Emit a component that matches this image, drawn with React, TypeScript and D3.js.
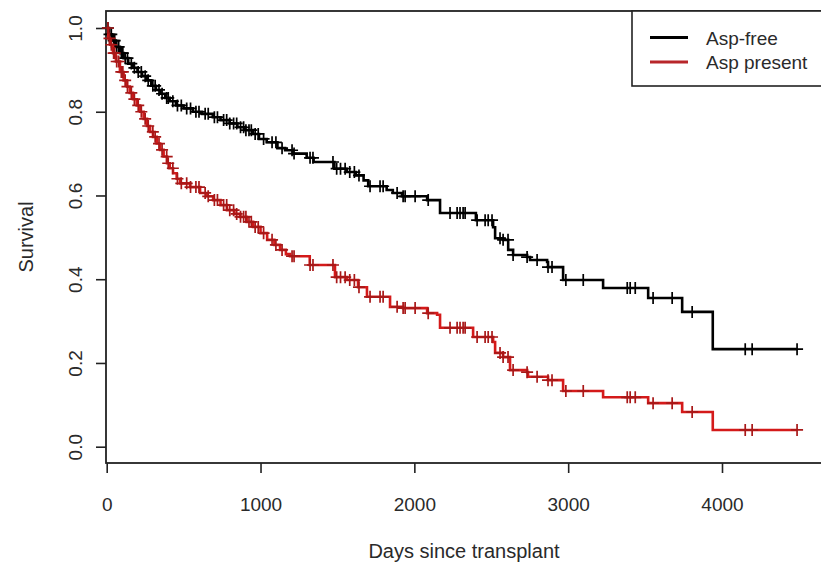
import React, { useEffect, useRef } from "react";
import * as d3 from "d3";

// axis ticks
const xTicks = [0, 1000, 2000, 3000, 4000];
const yTicks = [0, 0.2, 0.4, 0.6, 0.8, 1.0];

// Kaplan-Meier steps (day of drop, survival after it)
const freeDays = [0, 15, 35, 60, 86, 110, 140, 170, 200, 230, 260, 290, 320, 350, 380, 410, 450, 500, 560, 620, 690, 740, 800, 850, 900, 950, 990, 1040, 1110, 1160, 1210, 1300, 1345, 1480, 1560, 1620, 1670, 1700, 1820, 1860, 1920, 2083, 2167, 2400, 2512, 2525, 2577, 2610, 2642, 2733, 2752, 2863, 2869, 2967, 3227, 3520, 3741, 3940];
const freeSurv = [1.0, 0.985, 0.97, 0.955, 0.94, 0.928, 0.915, 0.905, 0.895, 0.885, 0.875, 0.862, 0.852, 0.843, 0.833, 0.825, 0.815, 0.808, 0.8, 0.795, 0.787, 0.78, 0.772, 0.763, 0.756, 0.747, 0.735, 0.727, 0.713, 0.708, 0.7, 0.69, 0.68, 0.664, 0.656, 0.648, 0.636, 0.622, 0.613, 0.606, 0.598, 0.589, 0.558, 0.541, 0.524, 0.498, 0.494, 0.47, 0.458, 0.453, 0.446, 0.441, 0.429, 0.398, 0.379, 0.355, 0.322, 0.233];

const presentDays = [0, 10, 22, 41, 60, 86, 110, 132, 150, 171, 195, 217, 240, 262, 282, 301, 325, 347, 370, 392, 410, 431, 455, 477, 542, 607, 650, 692, 740, 782, 830, 867, 910, 952, 1000, 1043, 1090, 1127, 1165, 1192, 1320, 1484, 1562, 1634, 1692, 1842, 1927, 2083, 2148, 2167, 2382, 2512, 2525, 2577, 2622, 2733, 2739, 2869, 2967, 3227, 3520, 3741, 3940];
const presentSurv = [1.0, 0.975, 0.96, 0.94, 0.92, 0.895, 0.875, 0.86, 0.845, 0.83, 0.815, 0.8, 0.783, 0.766, 0.752, 0.74, 0.724, 0.709, 0.693, 0.677, 0.665, 0.653, 0.64, 0.629, 0.62, 0.606, 0.598, 0.589, 0.577, 0.565, 0.556, 0.549, 0.537, 0.525, 0.51, 0.494, 0.482, 0.47, 0.46, 0.455, 0.434, 0.405, 0.398, 0.381, 0.358, 0.334, 0.331, 0.319, 0.315, 0.284, 0.262, 0.25, 0.224, 0.214, 0.183, 0.178, 0.167, 0.159, 0.133, 0.118, 0.104, 0.083, 0.04];

// censored times (the "+" marks), same days on both curves
const censorDays = [8, 18, 30, 45, 52, 65, 78, 95, 105, 120, 135, 160, 180, 205, 225, 250, 270, 300, 315, 340, 360, 390, 400, 430, 460, 485, 520, 545, 580, 600, 640, 660, 700, 720, 760, 780, 800, 825, 845, 870, 890, 905, 925, 940, 965, 985, 1020, 1075, 1100, 1140, 1205, 1218, 1322, 1341, 1471, 1495, 1520, 1550, 1580, 1610, 1640, 1712, 1777, 1797, 1888, 1927, 1940, 2005, 2090, 2232, 2278, 2297, 2317, 2330, 2408, 2460, 2480, 2505, 2557, 2577, 2609, 2642, 2733, 2798, 2869, 2895, 2985, 3098, 3384, 3403, 3436, 3552, 3676, 3806, 4151, 4196, 4488];
const lastDay = 4488;

const groups = ["Asp-free", "Asp present"];
const colors = ["#000000", "#d41a1a"];
const tickColors = ["#000000", "#a81818"];
const legendColors = ["#000000", "#b8262a"];

const font = "'Liberation Sans', Arial, sans-serif";

const App = () => {
    const ref = useRef<SVGSVGElement>(null);

    useEffect(() => {
        const svg = d3.select(ref.current);
        svg.selectAll("*").remove();

        const width = 821;
        const height = 564;

        const x = d3.scaleLinear().domain([0, 4000]).range([106.7, 722]);
        const y = d3.scaleLinear().domain([0, 1]).range([446.7, 28]);

        svg.attr("width", width).attr("height", height);

        // plot box (right side runs off the picture)
        svg.append("rect")
            .attr("x", 106).attr("y", 11)
            .attr("width", 730).attr("height", 452)
            .attr("fill", "none")
            .attr("stroke", "#222")
            .attr("stroke-width", 1.8);

        // y axis
        const yAxis = svg.append("g").attr("transform", "translate(106,0)")
            .call(d3.axisLeft(y).tickValues(yTicks).tickSize(10).tickPadding(0).tickFormat(d3.format(".1f")));
        yAxis.select(".domain").remove();
        yAxis.selectAll("line").attr("stroke", "#222").attr("stroke-width", 1.6);
        yAxis.selectAll("text")
            .attr("x", 0).attr("dy", null).attr("y", 0)
            .attr("text-anchor", "middle")
            .attr("transform", "translate(-24,0) rotate(-90)")
            .attr("font-family", font).attr("font-size", 19).attr("fill", "#2a2a2a");

        // x axis
        const xAxis = svg.append("g").attr("transform", "translate(0,463)")
            .call(d3.axisBottom(x).tickValues(xTicks).tickSize(10).tickPadding(0).tickFormat(d3.format("d")));
        xAxis.select(".domain").remove();
        xAxis.selectAll("line").attr("stroke", "#222").attr("stroke-width", 1.6);
        xAxis.selectAll("text")
            .attr("y", 48).attr("dy", null)
            .attr("font-family", font).attr("font-size", 19).attr("fill", "#2a2a2a");

        // axis titles
        svg.append("text")
            .attr("x", 464).attr("y", 558)
            .attr("text-anchor", "middle")
            .attr("font-family", font).attr("font-size", 20).attr("fill", "#2a2a2a")
            .text("Days since transplant");
        svg.append("text")
            .attr("transform", "translate(33,237) rotate(-90)")
            .attr("text-anchor", "middle")
            .attr("font-family", font).attr("font-size", 20).attr("fill", "#2a2a2a")
            .text("Survival");

        const series = [
            { days: freeDays, surv: freeSurv },
            { days: presentDays, surv: presentSurv },
        ];

        const line = d3.line<[number, number]>()
            .x(d => x(d[0]))
            .y(d => y(d[1]))
            .curve(d3.curveStepAfter);

        series.forEach((s, i) => {
            const pts: [number, number][] = s.days.map((d, j) => [d, s.surv[j]]);
            pts.push([lastDay, s.surv[s.surv.length - 1]]);

            svg.append("path")
                .datum(pts)
                .attr("d", line)
                .attr("fill", "none")
                .attr("stroke", colors[i])
                .attr("stroke-width", 2.6);

            // censor marks
            const survAt = (t: number) => s.surv[Math.max(0, d3.bisectRight(s.days, t) - 1)];
            const size = 6;
            svg.append("g")
                .selectAll("path")
                .data(censorDays)
                .enter()
                .append("path")
                .attr("d", t => {
                    const cx = x(t), cy = y(survAt(t));
                    return `M${cx - size},${cy}H${cx + size}M${cx},${cy - size}V${cy + size}`;
                })
                .attr("stroke", tickColors[i])
                .attr("stroke-width", 1.7)
                .attr("fill", "none");
        });

        // legend
        const legend = svg.append("g");
        legend.append("rect")
            .attr("x", 632).attr("y", 11)
            .attr("width", 200).attr("height", 75)
            .attr("fill", "white")
            .attr("stroke", "#222")
            .attr("stroke-width", 1.6);
        groups.forEach((g, i) => {
            const ly = 37.5 + i * 24.5;
            legend.append("line")
                .attr("x1", 650).attr("x2", 688)
                .attr("y1", ly).attr("y2", ly)
                .attr("stroke", legendColors[i])
                .attr("stroke-width", 3.2);
            legend.append("text")
                .attr("x", 706).attr("y", ly + 7)
                .attr("font-family", font).attr("font-size", 19).attr("fill", "#2a2a2a")
                .text(g);
        });
    }, []);

    return (
        <svg
            ref={ref}
            style={{ position: "absolute", left: 0, top: 0, display: "block", background: "white" }}
        ></svg>
    );
};

export default App;
